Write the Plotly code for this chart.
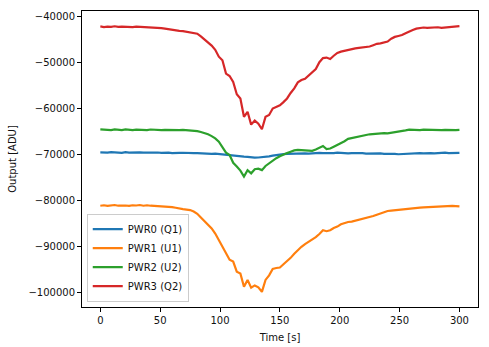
import plotly.graph_objects as go

time = list(range(0, 301, 3))

pwr0 = [-69550, -69650, -69600, -69500, -69620, -69580, -69650, -69500, -69600, -69550,
        -69650, -69520, -69600, -69580, -69500, -69620, -69560, -69640, -69580, -69600,
        -69680, -69600, -69650, -69620, -69700, -69650, -69700, -69680, -69750, -69800,
        -69750, -69850, -69800, -69900, -69950, -70000, -70100, -70150, -70250, -70350,
        -70450, -70500, -70650, -70700, -70650, -70600, -70500, -70400, -70250, -70100,
        -70000, -69900, -69850, -69800, -69750, -69800, -69700, -69750, -69800, -69700,
        -69750, -69650, -69700, -69750, -69650, -69700, -69600, -69700, -69650, -69750,
        -69700, -69650, -69750, -69700, -69800, -69750, -69700, -69800, -69750, -69850,
        -69800, -69900, -69850, -69950, -69900, -69800, -69850, -69750, -69800, -69700,
        -69750, -69650, -69700, -69750, -69650, -69700, -69600, -69700, -69650, -69600,
        -69650]

pwr1 = [-81150, -81050, -81200, -81100, -81000, -81150, -81050, -81100, -81200, -81050,
        -81100, -81000, -81150, -81050, -81150, -81200, -81250, -81300, -81250, -81350,
        -81450, -81600, -81800, -81900, -82000, -82100, -82400, -82900, -83700, -84500,
        -85300, -86100, -87200, -88600, -90100, -91500, -92900, -93300, -95500, -95900,
        -98800, -97300, -99000, -98500, -98900, -99900, -97300, -96300, -94900, -94700,
        -94600, -93900, -93300, -92500, -91600, -90800, -90100, -89500, -89000, -88600,
        -88000, -87300, -86500, -86700, -86500, -86000, -85700, -85200, -84900, -84700,
        -84600, -84400, -84200, -84000, -83900, -83700, -83400, -83100, -82800, -82500,
        -82300, -82200, -82100, -82050, -82000, -81900, -81800, -81700, -81650, -81550,
        -81500, -81450, -81450, -81400, -81350, -81350, -81300, -81250, -81200, -81250,
        -81300]

pwr2 = [-64550, -64650, -64600, -64700, -64550, -64600, -64680, -64550, -64620, -64700,
        -64580, -64650, -64600, -64700, -64560, -64650, -64600, -64700, -64620, -64680,
        -64600, -64650, -64700, -64620, -64680, -64650, -64700, -64900, -65100, -65300,
        -65600, -66000, -66500, -67200, -68400, -69600, -70100, -71800, -72600, -73500,
        -74800, -73400, -74100, -73200, -73100, -73400, -72500, -71900, -71300, -70800,
        -70400, -70000, -69700, -69400, -69100, -69000, -69050, -69100, -69000, -69200,
        -68900, -68500, -68150, -68800, -68700, -68300, -67900, -67600, -67100, -66600,
        -66400, -66200, -66100, -65900, -65750, -65600, -65500, -65400, -65450, -65350,
        -65400, -65300, -65200, -65050, -64900, -64750, -64600, -64650, -64550, -64700,
        -64600, -64650, -64700, -64600, -64650, -64700, -64620, -64680, -64600, -64700,
        -64650]

pwr3 = [-42100, -42250, -42150, -42200, -42080, -42230, -42150, -42200, -42100, -42250,
        -42150, -42200, -42120, -42280, -42200, -42350, -42400, -42500, -42600, -42750,
        -42850, -42950, -43100, -43150, -43300, -43350, -43500, -43700, -44300, -44900,
        -45600, -46300, -47200, -48700, -49500, -52400, -52900, -54200, -56900, -57800,
        -61800, -60700, -63500, -62600, -63300, -64500, -61800, -61400, -60000, -59700,
        -59300, -58600, -57800, -56600, -55600, -54300, -53800, -53500, -52800, -52200,
        -51400, -49900, -49000, -48900, -49200, -48500, -47900, -47600, -47400, -47200,
        -47100, -46900, -46800, -46750, -46600, -46500, -46200, -45900, -45800, -45600,
        -45400, -44800, -44400, -44200, -44000, -43600, -43200, -42900, -42600, -42400,
        -42350, -42450, -42350, -42400, -42300, -42450, -42350, -42300, -42100, -42050,
        -42050]

names = ["PWR0 (Q1)", "PWR1 (U1)", "PWR2 (U2)", "PWR3 (Q2)"]
colors = ["#1f77b4", "#ff7f0e", "#2ca02c", "#d62728"]
series = [pwr0, pwr1, pwr2, pwr3]

x_ticks = [0, 50, 100, 150, 200, 250, 300]
y_ticks = [-100000, -90000, -80000, -70000, -60000, -50000, -40000]
y_tick_labels = ["\u2212100000", "\u221290000", "\u221280000", "\u221270000",
                 "\u221260000", "\u221250000", "\u221240000"]

for s in series:
    assert len(s) == len(time), len(s)

fig = go.Figure()
for name, color, vals in zip(names, colors, series):
    fig.add_trace(go.Scatter(x=time, y=vals, mode="lines", name=name,
                             line=dict(color=color, width=2.2)))

font = dict(family="DejaVu Sans", size=10, color="#111111")
axis_common = dict(showline=True, linecolor="black", linewidth=1, mirror=True,
                   ticks="outside", ticklen=4, tickcolor="black", tickwidth=1,
                   showgrid=False, zeroline=False, tickfont=font, automargin=False)

fig.update_layout(
    width=489, height=347,
    margin=dict(l=82, r=11, t=11, b=40),
    paper_bgcolor="white", plot_bgcolor="white",
    font=font,
    showlegend=True,
    legend=dict(x=0.012, y=0.018, xanchor="left", yanchor="bottom",
                bordercolor="#cccccc", borderwidth=1, bgcolor="rgba(255,255,255,0.8)",
                font=dict(family="DejaVu Sans", size=10, color="#111111"),
                tracegroupgap=0),
    xaxis=dict(range=[-15.3, 315.5], tickvals=x_ticks,
               title=dict(text="Time [s]", font=font, standoff=8), **axis_common),
    yaxis=dict(range=[-103200, -38760], tickvals=y_ticks, ticktext=y_tick_labels,
               title=dict(text="Output [ADU]", font=font, standoff=9), **axis_common),
)

fig.write_html("out.html")
